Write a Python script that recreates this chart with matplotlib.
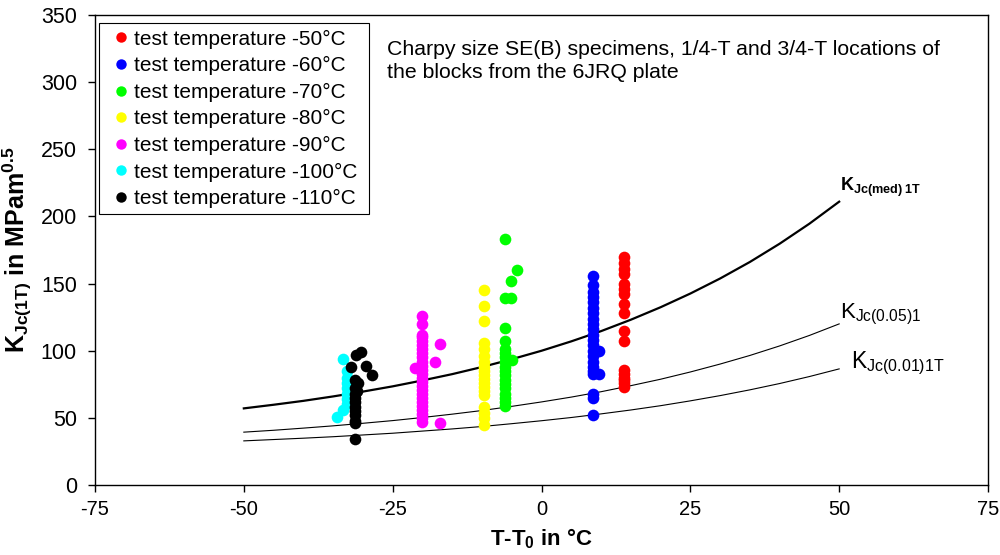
import matplotlib
matplotlib.use("Agg")
import matplotlib.pyplot as plt

plt.rcParams['font.family'] = ['Liberation Sans', 'DejaVu Sans']
plt.rcParams['mathtext.fontset'] = 'custom'
plt.rcParams['mathtext.rm'] = 'Liberation Sans'
plt.rcParams['mathtext.it'] = 'Liberation Sans'
plt.rcParams['mathtext.bf'] = 'Liberation Sans:bold'
plt.rcParams['axes.unicode_minus'] = False

# Master curves
curve_T = [-50, -45, -40, -35, -30, -25, -20, -15, -10, -5, 0, 5, 10, 15, 20, 25, 30, 35, 40, 45, 50]
k_med = [57.1, 59.8, 62.7, 66.0, 69.6, 73.5, 77.9, 82.6, 87.9, 93.7, 100.0, 107.0, 114.6, 123.1,
         132.4, 142.6, 153.8, 166.1, 179.7, 194.6, 211.0]
k_005 = [39.4, 40.8, 42.4, 44.1, 46.0, 48.0, 50.3, 52.8, 55.5, 58.6, 61.9, 65.5, 69.5, 74.0,
         78.8, 84.2, 90.1, 96.5, 103.6, 111.4, 120.0]
k_001 = [32.9, 33.9, 34.9, 36.0, 37.3, 38.6, 40.2, 41.8, 43.6, 45.7, 47.9, 50.3, 53.0, 55.9,
         59.1, 62.7, 66.6, 70.9, 75.6, 80.8, 86.5]

# Test data: T-T0 and KJc(1T)
t50_x = [13.8] * 17
t50_y = [170, 165, 161, 157, 150, 146, 142, 135, 128, 115, 107, 86, 83, 80, 78, 76, 73]

t60_x = [8.6] * 14 + [9.6] + [8.6] * 5 + [9.6] + [8.6] * 3
t60_y = [156, 149, 144, 140, 136, 132, 128, 124, 120, 116, 112, 108, 104, 100, 100,
         96, 92, 88, 85, 83, 83, 68, 65, 52]

t70_x = [-6.1, -4.1, -5.1, -6.1, -5.1, -6.1, -6.1, -6.1, -6.1, -6.1, -4.9, -6.1,
         -6.1, -6.1, -6.1, -6.1, -6.1, -6.1, -6.1, -6.1, -6.1, -6.1]
t70_y = [183, 160, 152, 139, 139, 117, 107, 101, 98, 95, 93, 92,
         88, 85, 82, 78, 75, 72, 68, 65, 62, 59]

t80_x = [-9.6] * 19
t80_y = [145, 133, 122, 106, 101, 96, 92, 88, 85, 82, 79, 76, 73, 70, 67, 58, 54, 50, 45]

t90_x = [-20.0] * 25 + [-17.0, -17.9, -21.2, -17.0]
t90_y = [126, 120, 112, 110, 107, 104, 101, 98, 95, 92, 89, 86, 83, 80, 77, 74, 71,
         68, 65, 62, 59, 56, 53, 50, 47, 105, 92, 87, 46]

t100_x = [-33.3, -32.6, -32.6, -32.6, -32.6, -32.6, -32.6, -32.6, -33.4, -34.3]
t100_y = [94, 85, 80, 76, 72, 68, 64, 60, 56, 51]

t110_x = [-31.2, -30.3, -32.0, -29.5, -28.4, -31.4, -30.8, -31.4, -31.0, -31.4, -31.4,
          -31.4, -31.4, -31.4, -31.4, -31.4, -31.4, -31.4]
t110_y = [97, 99, 88, 89, 82, 78, 76, 72, 70, 68, 65, 62, 58, 55, 52, 48, 46, 34]

series = [
    (t50_x, t50_y, '#ff0000', 'test temperature -50°C'),
    (t60_x, t60_y, '#0000ff', 'test temperature -60°C'),
    (t70_x, t70_y, '#00ff00', 'test temperature -70°C'),
    (t80_x, t80_y, '#ffff00', 'test temperature -80°C'),
    (t90_x, t90_y, '#ff00ff', 'test temperature -90°C'),
    (t100_x, t100_y, '#00ffff', 'test temperature -100°C'),
    (t110_x, t110_y, '#000000', 'test temperature -110°C'),
]

x_ticks = [-75, -50, -25, 0, 25, 50, 75]
y_ticks = [0, 50, 100, 150, 200, 250, 300, 350]

fig = plt.figure(figsize=(10, 5.55), dpi=100)
ax = fig.add_axes([0.095, 0.126, 0.893, 0.847])

ax.plot(curve_T, k_med, color='black', lw=1.6, zorder=2)
ax.plot(curve_T, k_005, color='black', lw=0.8, zorder=2)
ax.plot(curve_T, k_001, color='black', lw=0.8, zorder=2)

handles = []
for xs, ys, c, lab in series:
    ax.plot(xs, ys, 'o', color=c, ms=8.4, mew=0, ls='none', zorder=3)
    h, = ax.plot([], [], 'o', color=c, ms=7.5, mew=0, ls='none', label=lab + ' ')
    handles.append(h)

ax.set_xlim(-75, 75)
ax.set_ylim(0, 350)
ax.set_xticks(x_ticks)
ax.set_yticks(y_ticks)
ax.tick_params(direction='out', length=5, width=1, labelsize=15.5)
ax.tick_params(axis='y', pad=8)
ax.tick_params(axis='x', pad=6)
for lbl in ax.get_xticklabels():
    lbl.set_fontsize(14.5)
for s in ax.spines.values():
    s.set_linewidth(1.0)

leg = ax.legend(handles=handles, loc='upper left', bbox_to_anchor=(0.005, 0.982),
                fontsize=15, frameon=True, fancybox=False, framealpha=1,
                edgecolor='black', handlelength=1.5, handletextpad=-0.15,
                labelspacing=0.36, borderpad=0.3, borderaxespad=0.0)
leg.get_frame().set_linewidth(0.8)

ax.text(-26.0, 316, 'Charpy size SE(B) specimens, 1/4-T and 3/4-T locations of\nthe blocks from the 6JRQ plate',
        fontsize=15.3, va='center', ha='left', linespacing=1.28)

ax.text(50.2, 222, r'$\mathbf{K_{Jc(med)\ 1T}}$', fontsize=13, ha='left', va='center')
ax.text(50.2, 127, r'$\mathrm{K_{Jc(0.05)1}}$', fontsize=16, ha='left', va='center')
ax.text(52.0, 91, r'$\mathrm{K_{Jc(0.01)1T}}$', fontsize=16.5, ha='left', va='center')

ax.set_ylabel(r'$\mathbf{K_{Jc(1T)}}$ in MPam$^{\mathbf{0.5}}$', fontsize=18, fontweight='bold', labelpad=5)
ax.set_xlabel(r'T-T$_{\mathbf{0}}$ in °C', fontsize=16, fontweight='bold', labelpad=5)

fig.savefig('out.png', dpi=100)
